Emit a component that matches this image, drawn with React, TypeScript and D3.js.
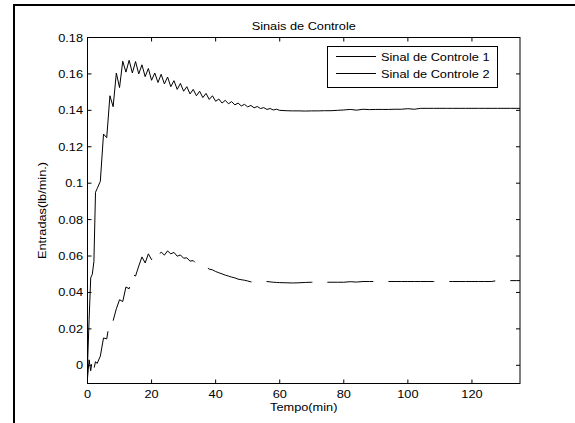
import React from 'react';
import * as d3 from 'd3';

// tempo (min)
const tempo = [
  0, 0.5, 1, 1.5, 2, 2.5, 3,
  4, 5, 6, 7, 8, 9, 10, 11, 12, 13, 14, 15, 16, 17, 18, 19, 20,
  21, 22, 23, 24, 25, 26, 27, 28, 29, 30, 31, 32, 33, 34, 35, 36, 37, 38, 39, 40,
  41, 42, 43, 44, 45, 46, 47, 48, 49, 50, 51, 52, 53, 54, 55, 56, 57, 58, 59, 60,
  62, 64, 66, 68, 70, 72, 74, 76, 78, 80, 82, 84, 86, 88, 90, 92, 94, 96, 98, 100,
  102, 104, 106, 108, 110, 112, 114, 116, 118, 120, 122, 124, 126, 128, 130, 132, 134, 135,
];

const sinal1 = [
  0, 0.025, 0.048, 0.05, 0.057, 0.095, 0.097,
  0.101, 0.127, 0.125, 0.148, 0.142, 0.1605, 0.1525, 0.167, 0.161, 0.1675, 0.1605, 0.1668, 0.16, 0.165, 0.1585, 0.163, 0.1565,
  0.1605, 0.1553, 0.1598, 0.1545, 0.1583, 0.153, 0.1563, 0.1515, 0.1548, 0.1505, 0.153, 0.149, 0.1515, 0.148, 0.1505, 0.147, 0.1493, 0.146, 0.148, 0.145,
  0.1462, 0.144, 0.1455, 0.1436, 0.1448, 0.143, 0.144, 0.1424, 0.1433, 0.1419, 0.1427, 0.1414, 0.1421, 0.141, 0.1415, 0.1405, 0.141, 0.1402, 0.1406, 0.14,
  0.1398, 0.1397, 0.1397, 0.1396, 0.1397, 0.1397, 0.1398, 0.1398, 0.14, 0.1402, 0.1405, 0.1401, 0.1406, 0.1404, 0.1405, 0.1405, 0.1405, 0.1406, 0.1406, 0.1409,
  0.1406, 0.1411, 0.1411, 0.1411, 0.1411, 0.1411, 0.1411, 0.1411, 0.1411, 0.1411, 0.1411, 0.1411, 0.1411, 0.1411, 0.1411, 0.1411, 0.1411, 0.1411,
];

const sinal2 = [
  -0.007, 0.003, -0.003, 0.003, -0.002, 0.002, 0.001,
  0.005, 0.015, 0.0145, 0.025, 0.0245, 0.031, 0.036, 0.035, 0.043, 0.042, 0.05, 0.049, 0.0545, 0.0595, 0.0562, 0.0612, 0.058,
  0.0618, 0.0598, 0.0622, 0.0605, 0.0628, 0.0612, 0.062, 0.0599, 0.0606, 0.0588, 0.059, 0.0572, 0.0575, 0.0556, 0.0555, 0.0542, 0.054, 0.0528, 0.0524, 0.0515,
  0.0508, 0.0502, 0.0495, 0.049, 0.0484, 0.048, 0.0473, 0.047, 0.0467, 0.0463, 0.0458, 0.0457, 0.0459, 0.0457, 0.0458, 0.046, 0.0458, 0.0456, 0.0455, 0.0454,
  0.0453, 0.0452, 0.0453, 0.0455, 0.0456, 0.0456, 0.0456, 0.0456, 0.0456, 0.0456, 0.0459, 0.0457, 0.046, 0.046, 0.046, 0.046, 0.046, 0.046, 0.046, 0.046,
  0.046, 0.046, 0.046, 0.046, 0.046, 0.046, 0.046, 0.046, 0.046, 0.046, 0.046, 0.046, 0.046, 0.0465, 0.0465, 0.0465, 0.0465, 0.0465,
];

const xTicks = [0, 20, 40, 60, 80, 100, 120];
const yTicks = [0, 0.02, 0.04, 0.06, 0.08, 0.1, 0.12, 0.14, 0.16, 0.18];
const legendLabels = ['Sinal de Controle 1', 'Sinal de Controle 2'];

const W = 575;
const H = 423;
const FONT = '"Liberation Sans", Arial, sans-serif';
const FS = 11;
const SX = 1.16; // texto um pouco esticado na horizontal

const T = ({ x, y, anchor = 'start', rotate = 0, children }: any) => (
  <text
    transform={`translate(${x},${y}) rotate(${rotate}) scale(${SX},1)`}
    textAnchor={anchor}
    fontFamily={FONT}
    fontSize={FS}
    fill="#000"
  >
    {children}
  </text>
);

export default function App() {
  const margin = { left: 87.5, right: 520, top: 37.5, bottom: 383.5 };
  const x = d3.scaleLinear().domain([0, 135]).range([margin.left, margin.right]);
  const y = d3.scaleLinear().domain([-0.01, 0.18]).range([margin.bottom, margin.top]);

  const line = d3
    .line<number>()
    .x((_, i) => x(tempo[i]))
    .y((d) => y(d));

  const tick = 4;

  return (
    <svg
      width={W}
      height={H}
      style={{ position: 'absolute', left: 0, top: 0, background: '#fff' }}
    >
      {/* moldura da figura (so esquerda e topo ficam visiveis) */}
      <path d={`M14,${H + 5} V5 H${W + 5}`} fill="none" stroke="#000" strokeWidth={2} />

      <defs>
        <clipPath id="area">
          <rect x={margin.left} y={margin.top} width={margin.right - margin.left} height={margin.bottom - margin.top} />
        </clipPath>
      </defs>

      <T x={(margin.left + margin.right) / 2} y={30} anchor="middle">Sinais de Controle</T>

      {/* ticks */}
      {xTicks.map((t) => (
        <g key={'x' + t}>
          <line x1={x(t)} x2={x(t)} y1={margin.bottom} y2={margin.bottom - tick} stroke="#000" />
          <line x1={x(t)} x2={x(t)} y1={margin.top} y2={margin.top + tick} stroke="#000" />
          <T x={x(t)} y={398} anchor="middle">{String(t)}</T>
        </g>
      ))}
      {yTicks.map((t) => (
        <g key={'y' + t}>
          <line x1={margin.left} x2={margin.left + tick} y1={y(t)} y2={y(t)} stroke="#000" />
          <line x1={margin.right} x2={margin.right - tick} y1={y(t)} y2={y(t)} stroke="#000" />
          <T x={83} y={y(t) + 4} anchor="end">{String(+t.toFixed(2))}</T>
        </g>
      ))}

      <g clipPath="url(#area)" fill="none" stroke="#000" strokeWidth={1}>
        <path d={line(sinal1) ?? ''} />
        <path d={line(sinal2) ?? ''} strokeDasharray="46 15" strokeDashoffset={10} />
      </g>

      <rect
        x={margin.left}
        y={margin.top}
        width={margin.right - margin.left}
        height={margin.bottom - margin.top}
        fill="none"
        stroke="#000"
      />

      <T x={(margin.left + margin.right) / 2} y={411} anchor="middle">Tempo(min)</T>
      <T x={46} y={(margin.top + margin.bottom) / 2} anchor="middle" rotate={-90}>Entradas(lb/min.)</T>

      {/* legenda */}
      <rect x={327.5} y={46.5} width={170} height={41} fill="#fff" stroke="#000" />
      {legendLabels.map((l, i) => (
        <g key={l}>
          <line x1={336} x2={376} y1={56.5 + i * 17} y2={56.5 + i * 17} stroke="#000" />
          <T x={381} y={60.5 + i * 17}>{l}</T>
        </g>
      ))}
    </svg>
  );
}
